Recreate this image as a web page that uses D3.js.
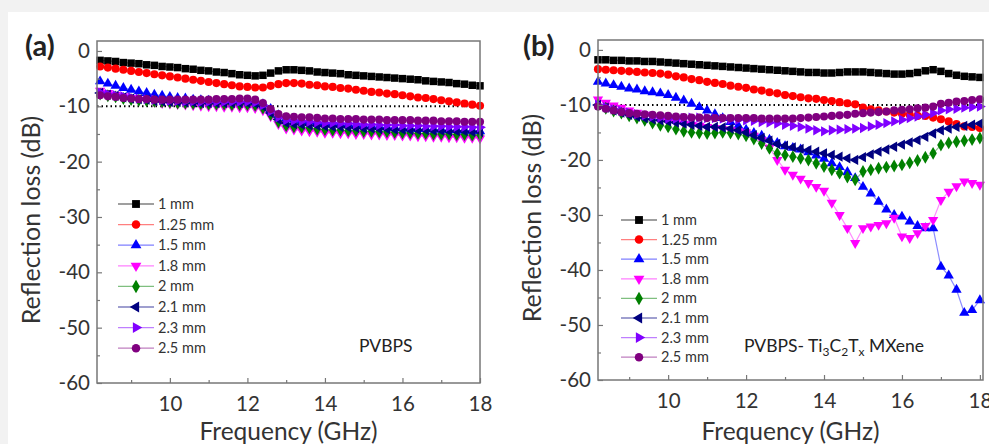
<!DOCTYPE html>
<html>
<head>
<meta charset="utf-8">
<script src="https://cdn.jsdelivr.net/npm/d3@7"></script>
<style>
  body { margin: 0; background: #f2f2f2; }
  svg { display: block; }
</style>
</head>
<body>
<svg id="chart"></svg>
<script>
// frequency points (GHz), shared by every curve
const freq = [8.2,8.4,8.6,8.8,9.0,9.2,9.4,9.6,9.8,10.0,10.2,10.4,10.6,10.8,11.0,11.2,11.4,11.6,11.8,12.0,
  12.2,12.4,12.6,12.8,13.0,13.2,13.4,13.6,13.8,14.0,14.2,14.4,14.6,14.8,15.0,15.2,15.4,15.6,15.8,16.0,
  16.2,16.4,16.6,16.8,17.0,17.2,17.4,17.6,17.8,18.0];

const thickness = ['1 mm', '1.25 mm', '1.5 mm', '1.8 mm', '2 mm', '2.1 mm', '2.3 mm', '2.5 mm'];
const colors = ['#000000', '#ff0000', '#0000ff', '#ff00ff', '#008000', '#000080', '#8000ff', '#800080'];
const shapes = ['square', 'circle', 'up', 'down', 'diamond', 'left', 'right', 'circle'];

const xTicks = [10, 12, 14, 16, 18];
const yTicks = [0, -10, -20, -30, -40, -50, -60];

// (a) PVBPS
const a1 = [-1.7,-1.8,-1.9,-2.1,-2.2,-2.3,-2.5,-2.6,-2.8,-2.9,-3.0,-3.2,-3.3,-3.5,-3.6,-3.8,-3.9,-4.1,-4.3,-4.4,-4.5,-4.4,-4.0,-3.6,-3.4,-3.4,-3.5,-3.6,-3.8,-3.9,-4.0,-4.1,-4.3,-4.4,-4.5,-4.6,-4.7,-4.8,-4.9,-5.0,-5.1,-5.2,-5.4,-5.5,-5.6,-5.7,-5.9,-6.0,-6.2,-6.3];
const a2 = [-2.8,-3.0,-3.2,-3.4,-3.6,-3.8,-4.0,-4.2,-4.4,-4.6,-4.8,-5.0,-5.2,-5.4,-5.6,-5.8,-6.0,-6.2,-6.4,-6.5,-6.6,-6.6,-6.3,-6.0,-5.8,-5.8,-5.9,-6.1,-6.2,-6.4,-6.5,-6.7,-6.8,-7.0,-7.2,-7.4,-7.5,-7.7,-7.8,-8.0,-8.2,-8.4,-8.5,-8.7,-8.9,-9.1,-9.3,-9.5,-9.7,-9.9];
const a3 = [-5.5,-5.9,-6.3,-6.7,-7.0,-7.3,-7.6,-7.9,-8.1,-8.3,-8.5,-8.6,-8.8,-8.9,-9.0,-9.1,-9.1,-9.2,-9.2,-9.2,-9.3,-9.6,-10.5,-11.6,-12.2,-12.4,-12.6,-12.7,-12.9,-13.0,-13.1,-13.2,-13.3,-13.4,-13.5,-13.6,-13.7,-13.8,-13.9,-14.0,-14.0,-14.1,-14.1,-14.2,-14.2,-14.3,-14.3,-14.4,-14.4,-14.5];
const a4 = [-7.2,-7.6,-7.9,-8.2,-8.5,-8.8,-9.0,-9.2,-9.4,-9.5,-9.6,-9.7,-9.8,-9.9,-10.0,-10.0,-10.1,-10.1,-10.2,-10.2,-10.3,-10.7,-11.8,-13.2,-14.0,-14.2,-14.4,-14.5,-14.6,-14.8,-14.8,-14.9,-14.9,-15.0,-15.0,-15.1,-15.1,-15.2,-15.2,-15.3,-15.3,-15.4,-15.4,-15.5,-15.5,-15.6,-15.6,-15.7,-15.7,-15.8];
const a5 = [-7.8,-8.1,-8.3,-8.6,-8.8,-8.9,-9.0,-9.1,-9.2,-9.3,-9.4,-9.4,-9.5,-9.5,-9.6,-9.6,-9.6,-9.7,-9.7,-9.7,-9.8,-10.3,-11.5,-12.8,-13.5,-13.7,-13.8,-13.9,-14.1,-14.2,-14.3,-14.3,-14.4,-14.4,-14.5,-14.5,-14.6,-14.6,-14.7,-14.8,-14.8,-14.9,-14.9,-15.0,-15.0,-15.0,-15.1,-15.1,-15.2,-15.2];
const a6 = [-7.6,-7.9,-8.1,-8.4,-8.6,-8.7,-8.8,-9.0,-9.1,-9.2,-9.2,-9.3,-9.3,-9.4,-9.4,-9.4,-9.4,-9.4,-9.4,-9.4,-9.5,-10.0,-11.2,-12.4,-13.0,-13.2,-13.3,-13.4,-13.5,-13.6,-13.7,-13.7,-13.8,-13.9,-14.0,-14.0,-14.1,-14.1,-14.2,-14.2,-14.3,-14.3,-14.3,-14.4,-14.4,-14.5,-14.5,-14.5,-14.6,-14.6];
const a7 = [-7.5,-7.8,-8.0,-8.2,-8.4,-8.6,-8.7,-8.8,-8.9,-9.0,-9.0,-9.1,-9.1,-9.2,-9.2,-9.2,-9.2,-9.2,-9.2,-9.2,-9.3,-9.8,-10.9,-12.0,-12.5,-12.6,-12.7,-12.8,-12.9,-13.0,-13.0,-13.1,-13.1,-13.2,-13.3,-13.3,-13.4,-13.4,-13.4,-13.5,-13.5,-13.5,-13.6,-13.6,-13.6,-13.7,-13.7,-13.7,-13.8,-13.8];
const a8 = [-8.0,-8.2,-8.3,-8.5,-8.6,-8.7,-8.7,-8.8,-8.8,-8.8,-8.8,-8.8,-8.8,-8.8,-8.8,-8.7,-8.7,-8.7,-8.6,-8.6,-8.8,-9.4,-10.5,-11.4,-11.8,-11.9,-12.0,-12.0,-12.1,-12.2,-12.2,-12.3,-12.3,-12.3,-12.4,-12.4,-12.4,-12.5,-12.5,-12.5,-12.5,-12.6,-12.6,-12.6,-12.7,-12.7,-12.7,-12.8,-12.8,-12.8];

// (b) PVBPS- Ti3C2Tx MXene
const b1 = [-1.8,-1.8,-1.9,-1.9,-2.0,-2.0,-2.1,-2.1,-2.2,-2.3,-2.4,-2.5,-2.6,-2.7,-2.8,-2.9,-3.0,-3.1,-3.2,-3.3,-3.4,-3.5,-3.6,-3.7,-3.8,-3.9,-4.0,-4.1,-4.1,-4.2,-4.2,-4.1,-4.0,-4.0,-4.0,-4.1,-4.2,-4.3,-4.4,-4.4,-4.3,-4.1,-3.8,-3.6,-3.9,-4.3,-4.6,-4.8,-4.9,-5.0];
const b2 = [-3.5,-3.6,-3.7,-3.8,-3.9,-4.0,-4.1,-4.2,-4.3,-4.5,-4.8,-5.0,-5.3,-5.5,-5.8,-6.0,-6.2,-6.5,-6.7,-6.9,-7.2,-7.4,-7.7,-7.9,-8.2,-8.4,-8.6,-8.8,-8.9,-9.1,-9.3,-9.5,-9.7,-9.9,-10.5,-10.8,-11.0,-11.2,-11.4,-11.6,-11.8,-12.0,-12.0,-12.3,-12.6,-13.0,-13.5,-13.9,-14.0,-14.2];
const b3 = [-5.8,-6.1,-6.4,-6.7,-7.0,-7.2,-7.5,-7.7,-7.9,-8.2,-8.7,-9.2,-9.8,-10.4,-11.0,-11.7,-12.4,-13.1,-13.8,-14.5,-15.1,-15.6,-16.3,-16.9,-17.5,-17.8,-18.1,-18.6,-19.2,-19.8,-20.6,-21.3,-22.2,-23.3,-24.9,-26.1,-27.6,-29.0,-30.0,-30.3,-31.2,-32.0,-32.4,-32.4,-39.4,-41.0,-43.6,-47.8,-47.3,-45.5];
const b4 = [-9.0,-9.6,-10.1,-10.5,-11.0,-11.4,-11.8,-12.2,-12.6,-13.0,-13.2,-13.4,-13.6,-13.8,-14.0,-14.2,-14.4,-14.6,-14.8,-15.0,-15.6,-16.4,-17.8,-20.0,-21.8,-22.7,-23.4,-24.2,-24.9,-25.6,-27.8,-30.0,-32.4,-35.1,-32.4,-32.1,-31.8,-31.5,-30.5,-33.9,-34.2,-33.3,-32.0,-30.9,-27.3,-25.8,-24.8,-23.9,-24.2,-24.5];
const b5 = [-10.0,-10.6,-11.1,-11.5,-12.0,-12.4,-12.8,-13.3,-13.7,-14.0,-14.4,-14.8,-15.0,-15.1,-15.2,-15.1,-15.0,-15.1,-15.3,-15.6,-16.2,-17.0,-17.9,-18.8,-19.1,-19.4,-19.7,-20.0,-20.6,-21.2,-21.8,-22.4,-23.1,-23.6,-22.1,-21.8,-21.5,-21.3,-21.1,-20.9,-20.5,-20.1,-19.5,-18.8,-17.3,-16.9,-16.7,-16.5,-16.3,-16.0];
const b6 = [-10.0,-10.5,-11.0,-11.4,-11.8,-12.1,-12.4,-12.6,-12.8,-13.0,-13.2,-13.4,-13.6,-13.8,-14.0,-14.0,-14.1,-14.3,-14.6,-15.0,-15.5,-16.0,-16.5,-17.1,-17.4,-17.7,-18.0,-18.2,-18.5,-18.8,-19.1,-19.4,-19.7,-20.0,-19.5,-19.0,-18.5,-18.1,-17.6,-17.2,-16.8,-16.4,-15.8,-15.2,-14.6,-14.3,-14.0,-13.8,-13.6,-13.4];
const b7 = [-10.0,-10.4,-10.8,-11.1,-11.4,-11.7,-11.9,-12.1,-12.3,-12.5,-12.5,-12.4,-12.3,-12.3,-12.4,-12.4,-12.5,-12.6,-12.7,-12.8,-12.9,-13.1,-13.2,-13.4,-13.6,-13.8,-14.0,-14.3,-14.6,-14.8,-14.6,-14.5,-14.4,-14.3,-14.2,-13.9,-13.6,-13.3,-13.0,-12.7,-12.4,-12.1,-11.8,-11.5,-11.0,-10.8,-10.7,-10.5,-10.4,-10.3];
const b8 = [-10.3,-10.7,-11.0,-11.3,-11.5,-11.6,-11.7,-11.8,-11.9,-12.0,-12.1,-12.2,-12.3,-12.3,-12.4,-12.4,-12.4,-12.4,-12.4,-12.4,-12.4,-12.5,-12.5,-12.5,-12.5,-12.5,-12.4,-12.3,-12.2,-12.1,-12.0,-11.9,-11.8,-11.6,-11.5,-11.4,-11.3,-11.2,-11.0,-10.9,-10.8,-10.6,-10.5,-10.3,-9.8,-9.6,-9.4,-9.3,-9.1,-9.0];

const W = 989, H = 444;
const FONT = 'Lato, "Open Sans", sans-serif';
const svg = d3.select('#chart').attr('width', W).attr('height', H);

// white sheet on the grey page
svg.append('rect').attr('x', 8).attr('y', 12).attr('width', W - 8).attr('height', H - 12).attr('fill', '#fff');

const symbolFor = {
  square: d3.symbolSquare,
  circle: d3.symbolCircle,
  diamond: d3.symbolDiamond,
  up: d3.symbolTriangle,
  down: d3.symbolTriangle,
  left: d3.symbolTriangle,
  right: d3.symbolTriangle
};
const rotFor = { up: 0, down: 180, left: -90, right: 90, square: 0, circle: 0, diamond: 0 };
const sizeFor = { square: 56, circle: 52, diamond: 48, up: 46, down: 46, left: 46, right: 46 };

function marker(sel, shape, color, scale) {
  const k = scale || 1;
  sel.append('path')
    .attr('d', d3.symbol().type(symbolFor[shape]).size(sizeFor[shape] * k)())
    .attr('transform', d => `translate(${d[0]},${d[1]}) rotate(${rotFor[shape]})`)
    .attr('fill', color);
}

function panel(opts) {
  const { left, right, top, bottom, xDomain, yDomain, series, tag, tagX, note, legendX, legendY, legendStep } = opts;

  const x = d3.scaleLinear().domain(xDomain).range([left, right]);
  const y = d3.scaleLinear().domain(yDomain).range([bottom, top]);

  const g = svg.append('g');

  // -10 dB reference line
  g.append('line')
    .attr('x1', left).attr('x2', right)
    .attr('y1', y(-10)).attr('y2', y(-10))
    .attr('stroke', '#000').attr('stroke-width', 2)
    .attr('stroke-dasharray', '1.5,3');

  // curves
  series.forEach((vals, i) => {
    const pts = vals.map((v, j) => [x(freq[j]), y(v)]);
    g.append('path')
      .attr('d', d3.line()(pts))
      .attr('fill', 'none')
      .attr('stroke', colors[i])
      .attr('stroke-opacity', 0.45)
      .attr('stroke-width', 1.2);
    const mg = g.append('g').selectAll('g').data(pts).join('g');
    marker(mg, shapes[i], colors[i]);
  });

  // frame
  g.append('rect')
    .attr('x', left).attr('y', top)
    .attr('width', right - left).attr('height', bottom - top)
    .attr('fill', 'none').attr('stroke', '#777').attr('stroke-width', 1.5);

  // axes (ticks inward), plain hyphen minus like the original
  g.append('g').attr('transform', `translate(0,${bottom})`)
    .call(d3.axisBottom(x).tickValues(xTicks).tickSize(-5).tickPadding(13).tickFormat(d => String(d)));
  g.append('g').attr('transform', `translate(0,${bottom})`)
    .call(d3.axisBottom(x).tickValues([9, 11, 13, 15, 17]).tickSize(-3).tickFormat(''));
  g.append('g').attr('transform', `translate(${left},0)`)
    .call(d3.axisLeft(y).tickValues(yTicks).tickSize(-5).tickPadding(7).tickFormat(d => String(d)));
  g.append('g').attr('transform', `translate(${left},0)`)
    .call(d3.axisLeft(y).tickValues([-5, -15, -25, -35, -45, -55]).tickSize(-3).tickFormat(''));

  g.selectAll('.domain').remove();
  g.selectAll('.tick line').attr('stroke', '#777').attr('stroke-width', 1.2);
  g.selectAll('.tick text').attr('fill', '#333')
    .style('font-family', FONT).style('font-size', '20.5px');

  // axis titles
  g.append('text')
    .attr('transform', `translate(${left - 57},${(top + bottom) / 2 + 8}) rotate(-90)`)
    .attr('text-anchor', 'middle')
    .attr('fill', '#333')
    .style('font-family', FONT).style('font-size', '25px')
    .text('Reflection loss (dB)');
  g.append('text')
    .attr('x', (left + right) / 2).attr('y', 440)
    .attr('text-anchor', 'middle')
    .attr('fill', '#333')
    .style('font-family', FONT).style('font-size', '24.5px')
    .text('Frequency (GHz)');

  // panel tag
  g.append('text')
    .attr('x', tagX).attr('y', 56)
    .attr('fill', '#222')
    .style('font-family', FONT).style('font-size', '29px').style('font-weight', 'bold')
    .text(tag);

  // legend
  const lg = g.append('g');
  thickness.forEach((t, i) => {
    const ly = legendY + i * legendStep;
    lg.append('line')
      .attr('x1', legendX).attr('x2', legendX + 36)
      .attr('y1', ly).attr('y2', ly)
      .attr('stroke', colors[i]).attr('stroke-opacity', 0.5).attr('stroke-width', 1.3);
    const m = lg.append('g').selectAll('g').data([[legendX + 18, ly]]).join('g');
    marker(m, shapes[i], colors[i], 1.1);
    lg.append('text')
      .attr('x', legendX + 40).attr('y', ly + 5)
      .attr('fill', '#333')
      .style('font-family', FONT).style('font-size', '14.5px')
      .text(t);
  });

  // sample note
  const nt = g.append('text')
    .attr('x', note.x).attr('y', note.y)
    .attr('fill', '#222')
    .style('font-family', FONT).style('font-size', '17.5px');
  note.parts.forEach(p => {
    const s = nt.append('tspan').text(p.t);
    if (p.sub) s.attr('dy', 4).style('font-size', '12px');
    if (p.back) s.attr('dy', -4);
  });
}

panel({
  left: 97, right: 480, top: 41, bottom: 383,
  xDomain: [8.12, 18], yDomain: [-60, 1.8],
  series: [a1, a2, a3, a4, a5, a6, a7, a8],
  tag: '(a)', tagX: 25,
  note: { x: 359, y: 352, parts: [{ t: 'PVBPS' }] },
  legendX: 118, legendY: 204, legendStep: 20.6
});

panel({
  left: 598, right: 983, top: 40, bottom: 380,
  xDomain: [8.2, 18.08], yDomain: [-60, 1.8],
  series: [b1, b2, b3, b4, b5, b6, b7, b8],
  tag: '(b)', tagX: 523,
  note: { x: 744, y: 352, parts: [
    { t: 'PVBPS- Ti' }, { t: '3', sub: true }, { t: 'C', back: true },
    { t: '2', sub: true }, { t: 'T', back: true }, { t: 'x', sub: true }, { t: ' MXene', back: true }
  ] },
  legendX: 621, legendY: 220, legendStep: 19.6
});
</script>
</body>
</html>
